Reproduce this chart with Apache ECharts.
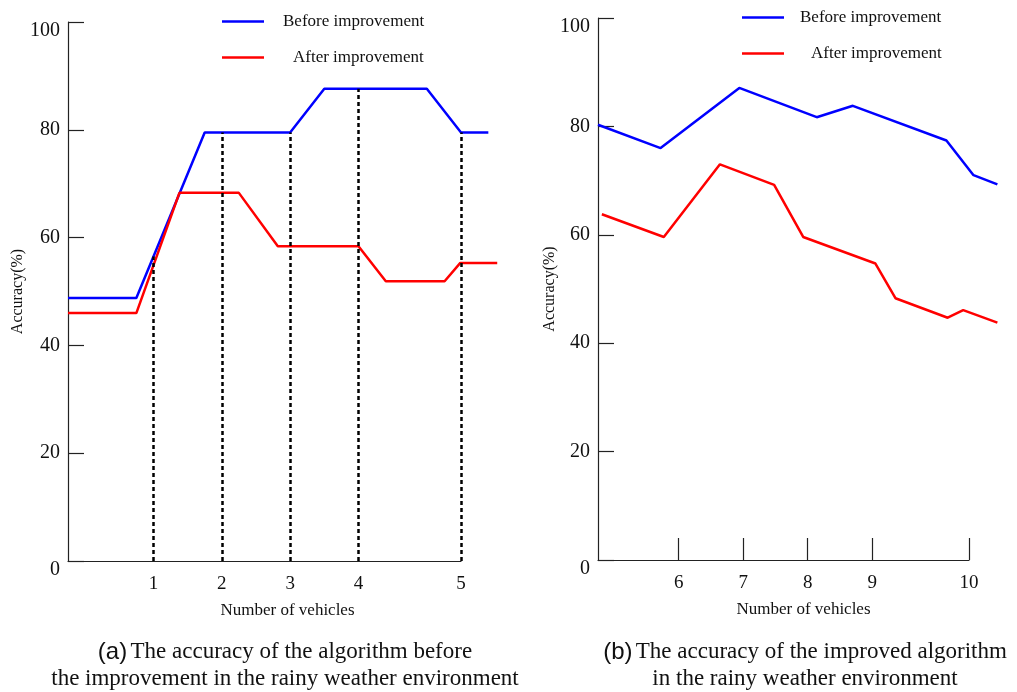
<!DOCTYPE html>
<html><head><meta charset="utf-8">
<script src="https://cdn.jsdelivr.net/npm/echarts@6/dist/echarts.min.js"></script>
<style>html,body{margin:0;padding:0;background:#fff}#c{width:1017px;height:692px}</style>
</head><body><div id="c"></div>
<script>
// ---- data ----
var seriesNames = ['Before improvement', 'After improvement'];
// panel (a)
var aTickPos = [1, 2, 3, 4, 5.5];
var aTickLabels = ['1', '2', '3', '4', '5'];
var aBeforeX = [-0.25, 0.75, 1.75, 3.0, 3.5, 5.0, 5.5, 5.9];
var aBeforeY = [48.8, 48.8, 79.5, 79.5, 87.6, 87.6, 79.5, 79.5];
var aAfterX = [-0.25, 0.75, 1.38, 2.25, 2.82, 4.0, 4.40, 5.26, 5.49, 6.03];
var aAfterY = [46.0, 46.0, 68.3, 68.3, 58.4, 58.4, 51.9, 51.9, 55.3, 55.3];
var aGuideX = [1, 2, 3, 4, 5.5];
var aGuideTop = [56.5, 79.5, 79.5, 87.6, 79.5];
// panel (b)
var bTickPos = [6, 7, 8, 9, 10.5];
var bTickLabels = ['6', '7', '8', '9', '10'];
var bBeforeX = [4.75, 5.72, 6.94, 8.14, 8.70, 10.15, 10.57, 10.94];
var bBeforeY = [80.3, 76.0, 87.1, 81.7, 83.8, 77.4, 71.0, 69.3];
var bAfterX = [4.81, 5.77, 6.64, 7.48, 7.93, 9.05, 9.36, 10.17, 10.41, 10.94];
var bAfterY = [63.8, 59.6, 73.0, 69.2, 59.6, 54.7, 48.3, 44.7, 46.1, 43.8];
var xAxisName = 'Number of vehicles';
var yAxisName = 'Accuracy(%)';
var captionA = ['The accuracy of the algorithm before', 'the improvement in the rainy weather environment'];
var captionB = ['The accuracy of the improved algorithm', 'in the rainy weather environment'];

// ---- chart ----
var SERIF = '"Liberation Serif", "Times New Roman", serif';
var SANS = '"Liberation Sans", Arial, sans-serif';
var BLUE = '#0000ff', RED = '#ff0000', AX = '#222', TXT = '#111';
function pairs(xs, ys) { return xs.map(function (x, i) { return [x, ys[i]]; }); }
function tickFmt(pos, labels) {
  return function (v) { var i = pos.indexOf(v); return i >= 0 ? labels[i] : ''; };
}
// panel geometry: visible axis range and the wider data range (lines run past the axis end)
var A = { left: 68, top: 22, width: 393, height: 539, min: -0.25, max: 5.5, dataMax: 6.1 };
var B = { left: 598, top: 18, width: 371, height: 542, min: 4.75, max: 10.5, dataMax: 11.0 };
function dataWidth(p) { return p.width * (p.dataMax - p.min) / (p.max - p.min); }

function displayX(gi, p, pos, labels, showTicks, namePad) {
  return {
    type: 'value', gridIndex: gi, min: p.min, max: p.max,
    splitLine: { show: false },
    axisLine: { show: true, onZero: false, lineStyle: { color: AX, width: 1.2 } },
    axisTick: { show: showTicks, inside: true, length: 22, customValues: pos, lineStyle: { color: AX, width: 1.2 } },
    axisLabel: { customValues: pos, formatter: tickFmt(pos, labels), margin: 14,
      fontFamily: SERIF, fontSize: 19, color: TXT },
    name: xAxisName, nameLocation: 'middle', nameGap: 41, nameMoveOverlap: false,
    nameTextStyle: { fontFamily: SERIF, fontSize: 17, color: TXT, padding: [0, 0, 0, namePad] }
  };
}
function hiddenX(gi, p, max) {
  return { type: 'value', gridIndex: gi, min: p.min, max: max, show: false };
}
function displayY(gi, gap) {
  return {
    type: 'value', gridIndex: gi, min: 0, max: 100, interval: 20,
    splitLine: { show: false },
    axisLine: { show: true, onZero: false, lineStyle: { color: AX, width: 1.2 } },
    axisTick: { show: true, inside: true, length: 16, lineStyle: { color: AX, width: 1.2 } },
    axisLabel: {
      margin: 8, fontFamily: SERIF, fontSize: 20, color: TXT,
      formatter: function (v) { return (v === 0 || v === 100) ? '{z|' + v + '}' : String(v); },
      rich: { z: { fontFamily: SERIF, fontSize: 20, color: TXT, padding: [18, 0, 0, 0] } }
    },
    name: yAxisName, nameLocation: 'middle', nameRotate: 90, nameGap: gap, nameMoveOverlap: false,
    nameTextStyle: { fontFamily: SERIF, fontSize: 16, color: TXT }
  };
}
function hiddenY(gi) { return { type: 'value', gridIndex: gi, min: 0, max: 100, show: false }; }
function lineSeries(name, ai, xs, ys, color, extra) {
  var s = {
    name: name, type: 'line', xAxisIndex: ai, yAxisIndex: ai,
    data: pairs(xs, ys), symbol: 'none', clip: false, silent: true,
    lineStyle: { color: color, width: 2.5 }, itemStyle: { color: color }
  };
  if (extra) for (var k in extra) s[k] = extra[k];
  return s;
}
function legend(left, top, padB, padA) {
  return {
    orient: 'vertical', left: left, top: top, padding: 0,
    icon: 'rect', itemWidth: 42, itemHeight: 2.5, itemGap: 19,
    selectedMode: false,
    data: seriesNames,
    formatter: function (n) { return n === seriesNames[0] ? '{b|' + n + '}' : '{a|' + n + '}'; },
    textStyle: {
      rich: {
        b: { fontFamily: SERIF, fontSize: 17, color: TXT, lineHeight: 22, padding: [0, 0, 0, padB] },
        a: { fontFamily: SERIF, fontSize: 17, color: TXT, lineHeight: 22, padding: [0, 0, 0, padA] }
      }
    }
  };
}
function caption(x, letter, lines) {
  return [
    { type: 'text', x: x, y: 652, style: { text: '{s|(' + letter + ')} {t|' + lines[0] + '}', textAlign: 'center', textVerticalAlign: 'middle',
        rich: { s: { fontFamily: SANS, fontSize: 24, fill: TXT }, t: { fontFamily: SERIF, fontSize: 23, fill: TXT } } } },
    { type: 'text', x: x, y: 679, style: { text: lines[1], textAlign: 'center', textVerticalAlign: 'middle',
        font: '23px ' + SERIF, fill: TXT } }
  ];
}

var chart = echarts.init(document.getElementById('c'), null, { renderer: 'canvas' });
chart.setOption({
  animation: false,
  backgroundColor: '#fff',
  grid: [
    // data grids (wider, so the lines can run past the drawn axis end)
    { left: A.left, top: A.top, width: dataWidth(A), height: A.height, containLabel: false, outerBoundsMode: 'none' },
    { left: B.left, top: B.top, width: dataWidth(B), height: B.height, containLabel: false, outerBoundsMode: 'none' },
    // display grids for the visible x axes
    { left: A.left, top: A.top, width: A.width, height: A.height, containLabel: false, outerBoundsMode: 'none' },
    { left: B.left, top: B.top, width: B.width, height: B.height, containLabel: false, outerBoundsMode: 'none' }
  ],
  xAxis: [
    hiddenX(0, A, A.dataMax),
    hiddenX(1, B, B.dataMax),
    displayX(2, A, aTickPos, aTickLabels, false, 46),
    displayX(3, B, bTickPos, bTickLabels, true, 40)
  ],
  yAxis: [displayY(0, 42), displayY(1, 40), hiddenY(2), hiddenY(3)],
  legend: [legend(222, 13, 14, 24), legend(742, 9, 11, 22)],
  graphic: caption(285, 'a', captionA).concat(caption(805, 'b', captionB)),
  series: [
    lineSeries(seriesNames[0], 0, aBeforeX, aBeforeY, BLUE, {
      markLine: {
        silent: true, symbol: ['none', 'none'], label: { show: false },
        lineStyle: { color: '#000', type: [4, 3], width: 2.5 },
        data: aGuideX.map(function (x, i) { return [{ coord: [x, 0] }, { coord: [x, aGuideTop[i]] }]; })
      }
    }),
    lineSeries(seriesNames[1], 0, aAfterX, aAfterY, RED),
    lineSeries(seriesNames[0], 1, bBeforeX, bBeforeY, BLUE),
    lineSeries(seriesNames[1], 1, bAfterX, bAfterY, RED)
  ]
});
</script></body></html>
